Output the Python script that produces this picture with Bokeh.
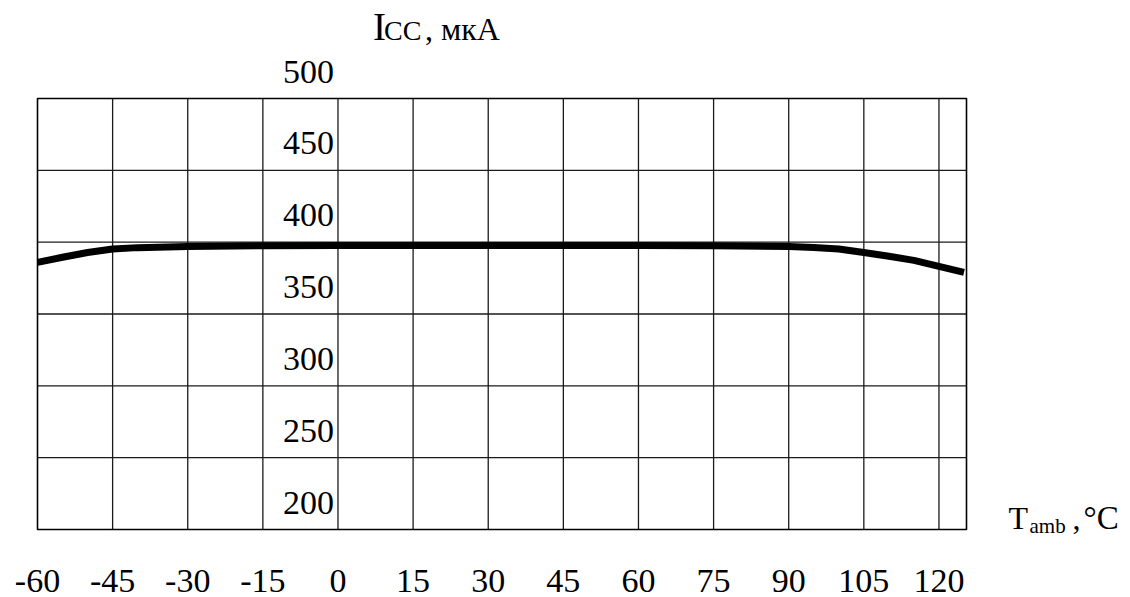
from bokeh.plotting import figure
from bokeh.models import Range1d, ColumnDataSource, LabelSet
from bokeh.core.properties import value
from bokeh.embed import file_html
from bokeh.resources import INLINE

# Data
temps = [-60, -55, -50, -45, -40, -30, -15, 0, 15, 30, 45, 60, 75, 90, 95, 100, 105, 110, 115, 120, 125]
icc = [385.9, 389.5, 392.8, 395.2, 396.2, 397.0, 397.5, 397.7, 397.7, 397.7, 397.7, 397.7, 397.5, 397.0,
       396.3, 395.2, 392.8, 390.2, 387.3, 383.2, 379.0]

x_ticks = [-60, -45, -30, -15, 0, 15, 30, 45, 60, 75, 90, 105, 120]
x_tick_labels = ["-60", "-45", "-30", "-15", "0", "15", "30", "45", "60", "75", "90", "105", "120"]
y_ticks = [200, 250, 300, 350, 400, 450, 500]
y_tick_labels = ["200", "250", "300", "350", "400", "450", "500"]

# chart box limits
X_MIN, X_MAX = -60, 125.5
Y_MIN, Y_MAX = 200, 500

FONT = "Liberation Serif"
W, H = 1130, 597
# box position on the page (pixels)
BL, BR, BT, BB = 37, 966, 98, 529
sx = (BR - BL) / (X_MAX - X_MIN)
sy = (BB - BT) / (Y_MAX - Y_MIN)
x_range = Range1d(X_MIN - BL / sx, X_MAX + (W - BR) / sx)
y_range = Range1d(Y_MIN - (H - BB) / sy, Y_MAX + BT / sy)

p = figure(width=W, height=H, output_backend="svg", toolbar_location=None,
           x_axis_location=None, y_axis_location=None, title=None,
           x_range=x_range, y_range=y_range,
           min_border_left=0, min_border_right=0, min_border_top=0, min_border_bottom=0)

p.background_fill_color = "white"
p.border_fill_color = "white"
p.outline_line_color = None
p.grid.visible = False

# grid lines inside the box
gx = x_ticks[1:]
p.segment(x0=gx, y0=[Y_MIN] * len(gx), x1=gx, y1=[Y_MAX] * len(gx), line_color="#1a1a1a", line_width=1.3)
gy = y_ticks[1:-1]
p.segment(x0=[X_MIN] * len(gy), y0=gy, x1=[X_MAX] * len(gy), y1=gy, line_color="#1a1a1a", line_width=1.3)
# box outline
p.quad(left=[X_MIN], right=[X_MAX], bottom=[Y_MIN], top=[Y_MAX], fill_color=None,
       line_color="black", line_width=1.6)

p.line(temps, icc, line_color="black", line_width=7, line_join="round", line_cap="butt")


def text_set(xs, ys, texts, size, align="left", dx=0, dy=0):
    src = ColumnDataSource(dict(x=xs, y=ys, t=texts))
    p.add_layout(LabelSet(x="x", y="y", text="t", source=src, x_offset=dx, y_offset=dy,
                          text_align=align, text_baseline="alphabetic",
                          text_font=value(FONT), text_font_size=value(size), text_color="black"))


# tick labels
text_set(x_ticks, [Y_MIN] * len(x_ticks), x_tick_labels, "34px", align="center", dy=-62)
text_set([0] * len(y_ticks), y_ticks, y_tick_labels, "34px", align="right", dx=-4, dy=16)

# Y axis title: I_CC, мкА
text_set([0], [Y_MAX], ["I"], "39px", dx=35, dy=59)
text_set([0], [Y_MAX], ["CC"], "28px", dx=46, dy=59)
text_set([0], [Y_MAX], [", мкА"], "32px", dx=87, dy=59)

# X axis title: T_amb ,°C
text_set([X_MAX], [Y_MIN], ["T"], "32px", dx=42, dy=1)
text_set([X_MAX], [Y_MIN], ["amb"], "21px", dx=63, dy=-3)
text_set([X_MAX], [Y_MIN], [","], "32px", dx=106, dy=1)
text_set([X_MAX], [Y_MIN], ["°C"], "33px", dx=117, dy=1)

open("out.html", "w").write(file_html(p, INLINE))
